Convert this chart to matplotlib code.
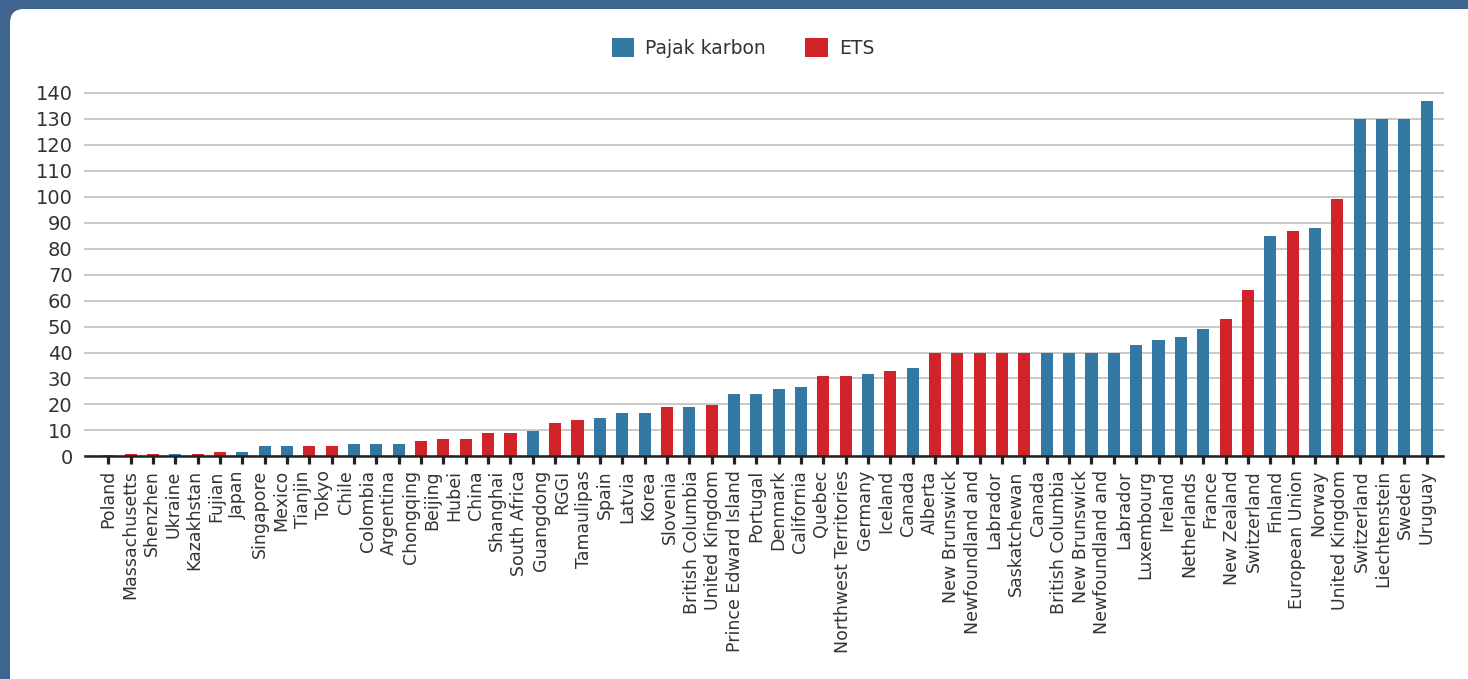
import matplotlib
matplotlib.use("Agg")
import matplotlib.pyplot as plt
import numpy as np
from matplotlib.patches import Patch, FancyBboxPatch

# ---- data ----
tick_labels = [
    "Poland", "Massachusetts", "Shenzhen", "Ukraine", "Kazakhstan", "Fujian",
    "Japan", "Singapore", "Mexico", "Tianjin", "Tokyo", "Chile", "Colombia",
    "Argentina", "Chongqing", "Beijing", "Hubei", "China", "Shanghai",
    "South Africa", "Guangdong", "RGGI", "Tamaulipas", "Spain", "Latvia",
    "Korea", "Slovenia", "British Columbia", "United Kingdom",
    "Prince Edward Island", "Portugal", "Denmark", "California", "Quebec",
    "Northwest Territories", "Germany", "Iceland", "Canada", "Alberta",
    "New Brunswick", "Newfoundland and", "Labrador", "Saskatchewan", "Canada",
    "British Columbia", "New Brunswick", "Newfoundland and", "Labrador",
    "Luxembourg", "Ireland", "Netherlands", "France", "New Zealand",
    "Switzerland", "Finland", "European Union", "Norway", "United Kingdom",
    "Switzerland", "Liechtenstein", "Sweden", "Uruguay",
]

values = [
    0.5, 0.9, 0.9, 0.9, 0.9, 1.7, 1.7, 4, 4, 4,
    4, 4.75, 4.75, 4.75, 5.9, 6.7, 6.7, 9, 9, 9.8,
    12.9, 14, 14.8, 16.7, 16.7, 19, 19, 19.8, 24, 24,
    26, 26.7, 31, 31, 31.7, 32.9, 34.1, 40, 40, 40,
    40, 40, 40, 40, 40, 40, 43, 45, 46, 49,
    53, 64, 85, 87, 88, 99, 130, 130, 130, 137,
]

kinds = [
    "T", "E", "E", "T", "E", "E", "T", "T", "T", "E",
    "E", "T", "T", "T", "E", "E", "E", "E", "E", "T",
    "E", "E", "T", "T", "T", "E", "T", "E", "T", "T",
    "T", "T", "E", "E", "T", "E", "T", "E", "E", "E",
    "E", "E", "T", "T", "T", "T", "T", "T", "T", "T",
    "E", "E", "T", "E", "T", "E", "T", "T", "T", "T",
]

series_names = {"T": "Pajak karbon", "E": "ETS"}
yticks = list(range(0, 141, 10))

# ---- style ----
BLUE = "#3278a2"
RED = "#d1232a"
colors = {"T": BLUE, "E": RED}
TXT = "#333333"
plt.rcParams["font.family"] = ["DejaVu Sans"]

fig = plt.figure(figsize=(14.68, 6.79), dpi=100)
fig.patch.set_facecolor("#3e648f")

W, H = 1468, 679
panel = FancyBboxPatch((10, -30), W + 40, H + 30 - 9,
                       boxstyle="round,pad=0,rounding_size=14",
                       transform=None, facecolor="white",
                       edgecolor="none", zorder=0)
fig.add_artist(panel)

ax = fig.add_axes([85 / W, 1 - 456.3 / H, (1443 - 85) / W, (456.3 - 93) / H])
ax.set_facecolor("none")

x = np.arange(len(values))
ax.bar(x, values, width=0.54, color=[colors[k] for k in kinds], zorder=3)

ax.set_ylim(0, 140)
ax.set_xlim(-1.04, len(values) - 1 + 0.73)
ax.set_yticks(yticks)
ax.set_yticklabels([str(v) for v in yticks])
ax.yaxis.grid(True, color="#c9c9c9", linewidth=1.4, zorder=0)
for gl in ax.get_ygridlines():
    gl.set_clip_on(False)
ax.set_axisbelow(True)
for s in ax.spines.values():
    s.set_visible(False)
ax.axhline(0, color="#222222", linewidth=1.8, zorder=4, clip_on=False)

ax.tick_params(axis="y", length=0, pad=9, labelsize=14, labelcolor=TXT)

# bar tick marks (major) and labels (minor, spread evenly)
ax.xaxis.remove_overlapping_locs = False
ax.set_xticks(x)
ax.set_xticklabels([])
ax.tick_params(axis="x", which="major", length=5.5, width=2.3, color="#222222",
               direction="out")
label_pos = np.linspace(0, len(values) - 1, len(tick_labels))
ax.set_xticks(label_pos, minor=True)
ax.set_xticklabels(tick_labels, minor=True, rotation=90)
ax.tick_params(axis="x", which="minor", length=0, pad=10, labelsize=12.5,
               labelcolor=TXT)

handles = [Patch(facecolor=colors[k], edgecolor="none", label=series_names[k])
           for k in ["T", "E"]]
fig.legend(handles=handles, loc="center", bbox_to_anchor=(743 / W, 1 - 48 / H),
           ncol=2, frameon=False, fontsize=13.5, handlelength=1.2,
           handleheight=1.2, handletextpad=0.6, columnspacing=2.1,
           labelcolor=TXT)

fig.savefig("out.png", dpi=100, facecolor=fig.get_facecolor())
